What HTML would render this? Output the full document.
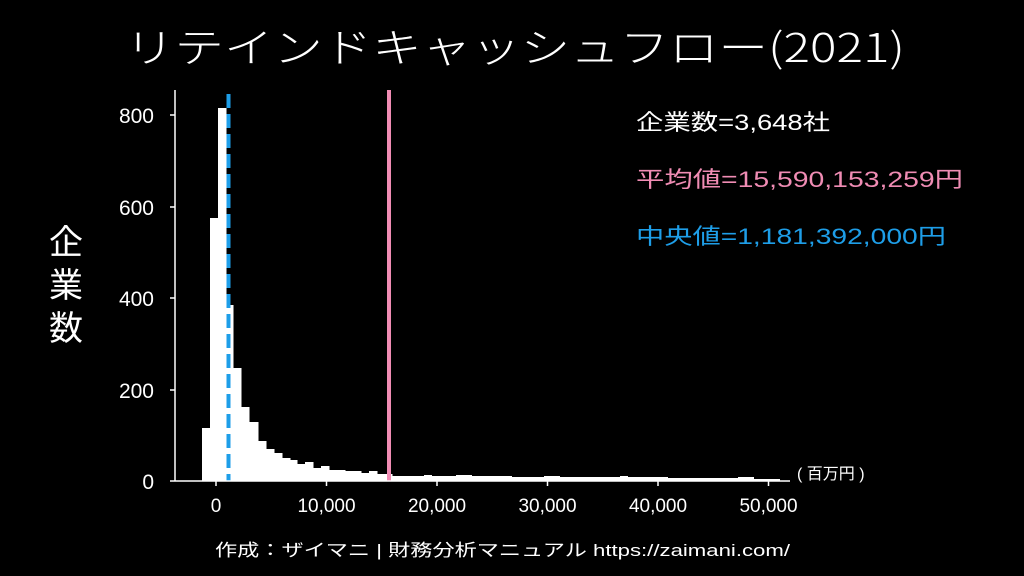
<!DOCTYPE html>
<html><head><meta charset="utf-8"><style>
html,body{margin:0;padding:0;background:#000;}
svg{display:block;}
text{font-family:"Liberation Sans","Noto Sans CJK JP",sans-serif;}
</style></head><body>
<svg width="1024" height="576" viewBox="0 0 1024 576" xmlns="http://www.w3.org/2000/svg">
<rect width="1024" height="576" fill="#000"/>
<text x="515" y="62" font-size="40" fill="#fff" text-anchor="middle" textLength="780" lengthAdjust="spacingAndGlyphs" style="font-family:'Noto Sans CJK JP',sans-serif;font-weight:300">リテインドキャッシュフロー(2021)</text>
<g fill="#fff">
<rect x="202" y="428" width="8.5" height="53"/>
<rect x="210" y="218" width="8.5" height="263"/>
<rect x="218" y="108" width="8.5" height="373"/>
<rect x="226" y="305" width="7.5" height="176"/>
<rect x="233" y="368" width="8.5" height="113"/>
<rect x="241" y="407" width="8.5" height="74"/>
<rect x="249" y="422" width="9.5" height="59"/>
<rect x="258" y="441" width="8.5" height="40"/>
<rect x="266" y="449" width="8.5" height="32"/>
<rect x="274" y="453" width="8.5" height="28"/>
<rect x="282" y="458" width="8.5" height="23"/>
<rect x="290" y="460" width="7.5" height="21"/>
<rect x="297" y="464" width="8.5" height="17"/>
<rect x="305" y="462" width="8.5" height="19"/>
<rect x="313" y="468" width="8.5" height="13"/>
<rect x="321" y="466" width="8.5" height="15"/>
<rect x="329" y="470" width="16.5" height="11"/>
<rect x="345" y="471" width="16.5" height="10"/>
<rect x="361" y="473" width="8.5" height="8"/>
<rect x="369" y="471" width="8.5" height="10"/>
<rect x="377" y="474" width="15.5" height="7"/>
<rect x="392" y="476" width="32" height="5"/>
<rect x="424" y="475" width="8" height="6"/>
<rect x="432" y="476" width="24" height="5"/>
<rect x="456" y="475" width="16" height="6"/>
<rect x="472" y="476" width="40" height="5"/>
<rect x="512" y="477" width="32" height="4"/>
<rect x="544" y="476" width="16" height="5"/>
<rect x="560" y="477" width="60" height="4"/>
<rect x="620" y="476" width="8" height="5"/>
<rect x="628" y="477" width="40" height="4"/>
<rect x="668" y="478" width="70" height="3"/>
<rect x="738" y="477" width="16" height="4"/>
<rect x="754" y="479" width="26" height="2"/>
</g>
<line x1="228.5" y1="94" x2="228.5" y2="481" stroke="#1e9ee8" stroke-width="4" stroke-dasharray="14,6"/>
<line x1="389" y1="90" x2="389" y2="481" stroke="#f08cb4" stroke-width="4"/>
<g stroke="#fff" stroke-width="1.5">
<line x1="175" y1="90" x2="175" y2="481"/>
<line x1="175" y1="481" x2="790" y2="481"/>
<line x1="170" y1="481" x2="175" y2="481"/><line x1="170" y1="390" x2="175" y2="390"/>
<line x1="170" y1="298" x2="175" y2="298"/><line x1="170" y1="207" x2="175" y2="207"/>
<line x1="170" y1="115" x2="175" y2="115"/>
<line x1="216" y1="481" x2="216" y2="486"/><line x1="326.5" y1="481" x2="326.5" y2="486"/>
<line x1="437" y1="481" x2="437" y2="486"/><line x1="547.5" y1="481" x2="547.5" y2="486"/>
<line x1="658" y1="481" x2="658" y2="486"/><line x1="768.5" y1="481" x2="768.5" y2="486"/>
</g>
<g fill="#fff" font-size="21" text-anchor="end">
<text x="154" y="489">0</text><text x="154" y="398">200</text><text x="154" y="306">400</text>
<text x="154" y="215">600</text><text x="154" y="123">800</text>
</g>
<g fill="#fff" font-size="19" text-anchor="middle">
<text x="216" y="512">0</text><text x="326.5" y="512">10,000</text><text x="437" y="512">20,000</text>
<text x="547.5" y="512">30,000</text><text x="658" y="512">40,000</text><text x="768.5" y="512">50,000</text>
</g>
<text x="797" y="479" fill="#fff" font-size="16">( 百万円 )</text>
<g fill="#fff" font-size="34" text-anchor="middle"><text x="66" y="254">企</text><text x="66" y="297">業</text><text x="66" y="340">数</text></g>
<text x="636" y="130" fill="#fff" font-size="22" textLength="194" lengthAdjust="spacingAndGlyphs">企業数=3,648社</text>
<text x="636" y="187" fill="#f08cb4" font-size="22" textLength="327" lengthAdjust="spacingAndGlyphs">平均値=15,590,153,259円</text>
<text x="636" y="244" fill="#1e9ee8" font-size="22" textLength="310" lengthAdjust="spacingAndGlyphs">中央値=1,181,392,000円</text>
<text x="215" y="556" fill="#fff" font-size="17" textLength="575" lengthAdjust="spacingAndGlyphs">作成：ザイマニ | 財務分析マニュアル https://zaimani.com/</text>
</svg>
</body></html>
